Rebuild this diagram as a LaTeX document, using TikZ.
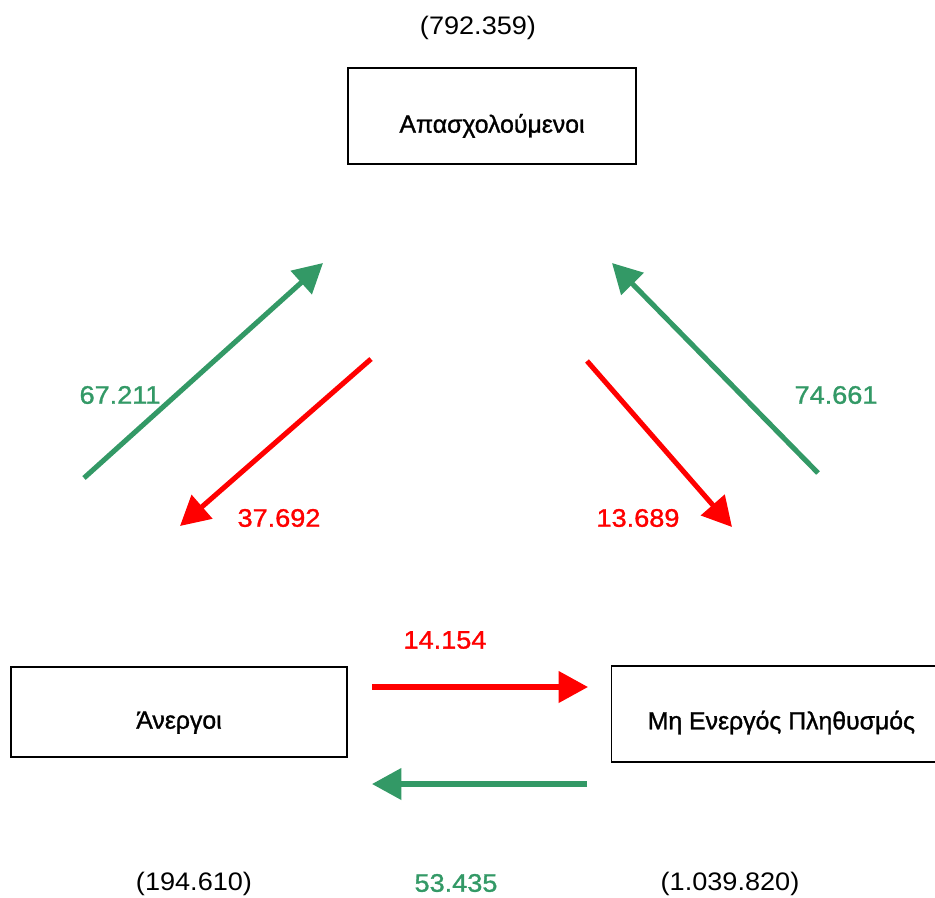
\documentclass[tikz,border=0pt]{standalone}
\usepackage{fontspec}
\setmainfont{Liberation Sans}
\newfontfamily\boxfont[FakeBold=1.2]{Liberation Sans}
\newfontfamily\numfont[FakeStretch=1.07]{Liberation Sans}
\newfontfamily\cnumfont[FakeStretch=1.07,FakeBold=1.2]{Liberation Sans}
\usetikzlibrary{arrows.meta}
\definecolor{flowgreen}{HTML}{339966}
\definecolor{flowred}{HTML}{FF0000}
\tikzset{
  box/.style={draw, line width=1.1pt, minimum width=#1, inner sep=0pt,
    text height=25pt, text depth=0pt, font=\boxfont\fontsize{18.6}{22}\selectfont},
  lbl/.style={font=\numfont\fontsize{19}{22}\selectfont, inner sep=0pt},
  clbl/.style={font=\cnumfont\fontsize{19}{22}\selectfont, inner sep=0pt},
  flow/.style={line width=3.8pt, -{Triangle[length=22pt,width=23pt]}},
  gflow/.style={flow, draw=flowgreen},
  rflow/.style={flow, draw=flowred},
}
\begin{document}
\begin{tikzpicture}[x=0.75pt,y=-0.75pt]
\useasboundingbox (0,0) rectangle (935,897);
% boxes
\node[box=216pt, minimum height=72pt] (emp) at (492,116) {Απασχολούμενοι};
\node[box=252pt, minimum height=67.5pt] (unemp) at (179,712) {Άνεργοι};
\node[box=244pt, minimum height=72pt, anchor=west, text height=23pt] (inact) at (611,714) {\hspace*{10.5pt}Μη Ενεργός Πληθυσμός};
% totals
\node[lbl] (temp) at (478,28) {(792.359)};
\node[lbl] (tunemp) at (194,884) {(194.610)};
\node[lbl] (tinact) at (730,884) {(1.039.820)};
% flow labels
\node[clbl, text=flowgreen] (l1) at (120,395) {67.211};
\node[clbl, text=flowred] (l2) at (279,518) {37.692};
\node[clbl, text=flowred] (l3) at (638,518) {13.689};
\node[clbl, text=flowgreen] (l4) at (836,395) {74.661};
\node[clbl, text=flowred] (l5) at (445,640) {14.154};
\node[clbl, text=flowgreen] (l6) at (456,883) {53.435};
% arrow endpoints
\coordinate (a1s) at (84,478);  \coordinate (a1e) at (323,263);
\coordinate (a2s) at (371,359); \coordinate (a2e) at (180,526);
\coordinate (a3s) at (587,361); \coordinate (a3e) at (732,527);
\coordinate (a4s) at (818,473); \coordinate (a4e) at (612,263);
\coordinate (a5s) at (372,687); \coordinate (a5e) at (588,687);
\coordinate (a6s) at (587,784); \coordinate (a6e) at (372,784);
\draw[gflow] (a1s) -- (a1e);
\draw[rflow] (a2s) -- (a2e);
\draw[rflow] (a3s) -- (a3e);
\draw[gflow] (a4s) -- (a4e);
\draw[rflow] (a5s) -- (a5e);
\draw[gflow] (a6s) -- (a6e);
\end{tikzpicture}
\end{document}
